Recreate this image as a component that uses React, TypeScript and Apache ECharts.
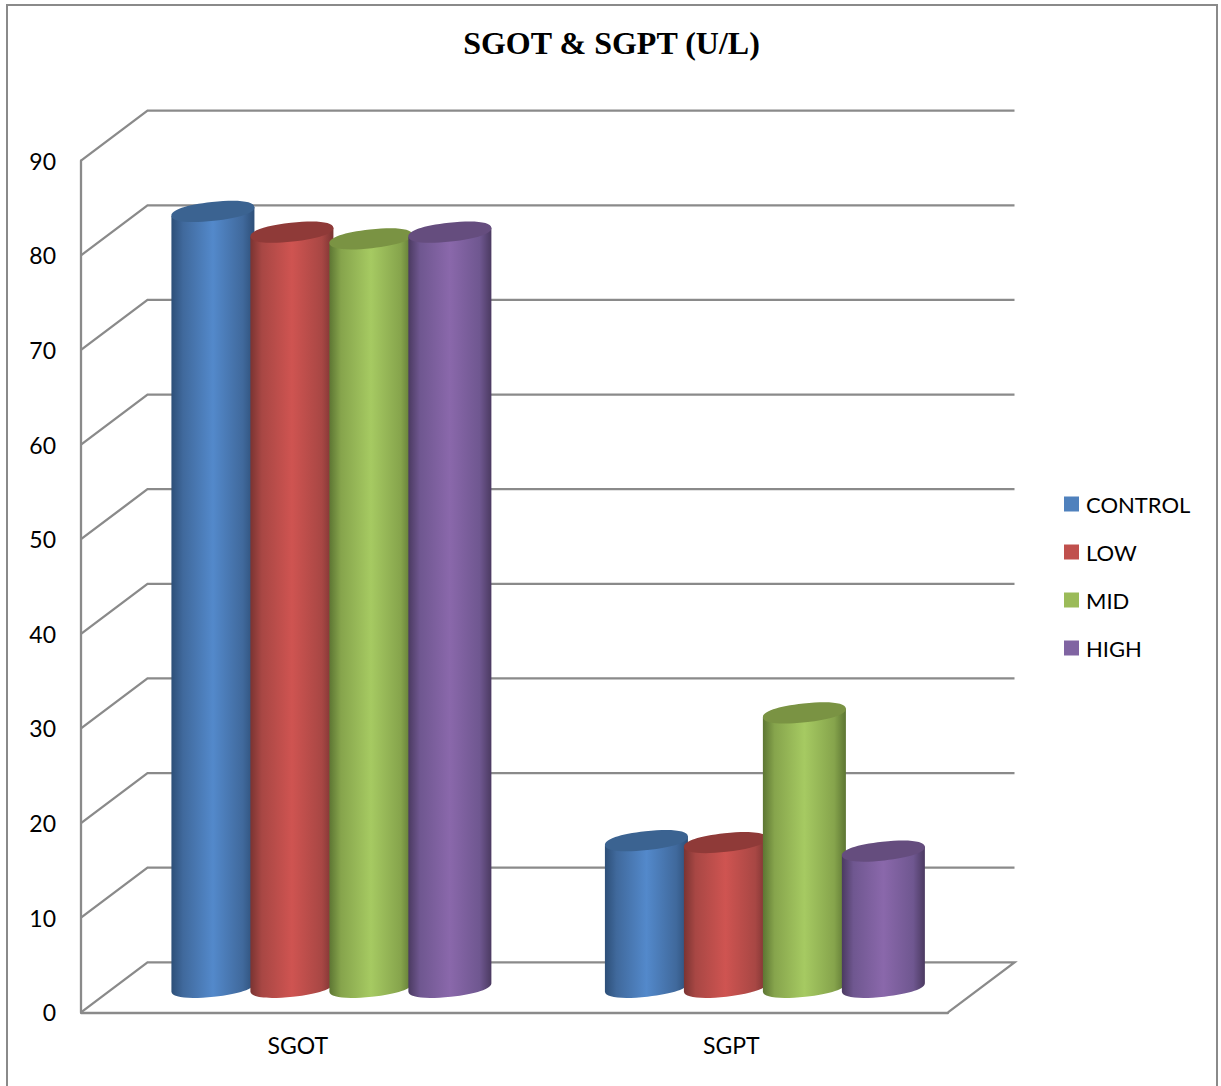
import React, { useEffect, useRef } from "react";
import * as echarts from "echarts";

const titleText = "SGOT & SGPT (U/L)";
const categories = ["SGOT", "SGPT"];
const axisTicks = [0, 10, 20, 30, 40, 50, 60, 70, 80, 90];

const controlValues = [82.0, 15.5];
const lowValues = [79.8, 15.3];
const midValues = [79.1, 29.0];
const highValues = [79.8, 14.4];

const GRID_LINE = "#8a8a8a";
const FONT = "Lato";

// The chart's floor and walls sit behind the front plane by this offset.
const DEPTH_X = 66.5;
const DEPTH_Y = -50;

const TILT_DEG = 6.2;
const PITCH_RATIO = 0.1822; // bar spacing relative to the category band
const WIDTH_RATIO = 0.1915; // cylinder width relative to the category band
const KAPPA = 0.62; // cubic control distance; a little fuller than a true ellipse

const palette = [
  { name: "CONTROL", values: controlValues, flat: "#4f81bd", edge: "#2d4f78", side: "#40699c", mid: "#5389cb", cap: "#3b6391" },
  { name: "LOW", values: lowValues, flat: "#c0504d", edge: "#7a3432", side: "#a84744", mid: "#cf5451", cap: "#8f3a38" },
  { name: "MID", values: midValues, flat: "#9bbb59", edge: "#5d7633", side: "#86a44c", mid: "#a6ca62", cap: "#7a9343" },
  { name: "HIGH", values: highValues, flat: "#8064a2", edge: "#4b3a61", side: "#6f5790", mid: "#8a68ab", cap: "#654d7e" },
];

// Back wall gridline with its diagonal on the side wall; the zero tick closes the floor.
function renderFrame(params: any, api: any) {
  const v = api.value(1);
  const y = api.coord([0, v])[1];
  const x = params.coordSys.x;
  const right = x + params.coordSys.width;
  const points =
    v === 0
      ? [
          [x, y],
          [x + DEPTH_X, y + DEPTH_Y],
          [right + DEPTH_X, y + DEPTH_Y],
          [right, y],
        ]
      : [
          [x, y],
          [x + DEPTH_X, y + DEPTH_Y],
          [right + DEPTH_X, y + DEPTH_Y],
        ];
  return {
    type: "polyline",
    shape: { points },
    style: { stroke: GRID_LINE, lineWidth: 2.3, fill: "none" },
  };
}

// Half of a tilted ellipse as two cubics, from its left end to its right end;
// side = 1 bulges downwards, side = -1 upwards. Returned without the initial move.
function halfEllipse(cx: number, cy: number, rx: number, ry: number, side: number, reverse: boolean) {
  const t = (TILT_DEG * Math.PI) / 180;
  const ux = Math.cos(t) * rx;
  const uy = -Math.sin(t) * rx;
  const vx = Math.sin(t) * ry * side;
  const vy = Math.cos(t) * ry * side;
  const at = (a: number, b: number) => `${cx + a * ux + b * vx} ${cy + a * uy + b * vy}`;
  if (!reverse) {
    return `C ${at(-1, KAPPA)} ${at(-KAPPA, 1)} ${at(0, 1)} C ${at(KAPPA, 1)} ${at(1, KAPPA)} ${at(1, 0)}`;
  }
  return `C ${at(1, KAPPA)} ${at(KAPPA, 1)} ${at(0, 1)} C ${at(-KAPPA, 1)} ${at(-1, KAPPA)} ${at(-1, 0)}`;
}

// One cylinder: shaded body with a rounded foot, and a darker tilted cap on top.
function makeCylinder(seriesPos: number, colors: (typeof palette)[number]) {
  return (_params: any, api: any) => {
    const band = api.size([1, 0])[0];
    const pitch = band * PITCH_RATIO;
    const half = (band * WIDTH_RATIO) / 2;
    const cat = api.value(0);
    const [fx, topFront] = api.coord([cat, api.value(1)]);
    const baseFront = api.coord([cat, 0])[1];
    const cx = fx + DEPTH_X / 2 + (seriesPos - 1.5) * pitch + 0.4;
    const topY = topFront + DEPTH_Y / 2;
    const baseY = baseFront + DEPTH_Y / 2;
    const t = (TILT_DEG * Math.PI) / 180;
    const rise = half * Math.tan(t);
    const rx = Math.hypot(half, rise);
    const ry = 9.4;
    const lx = cx - half;
    const rightX = cx + half;
    const body =
      `M ${lx} ${topY + rise} L ${lx} ${baseY + rise} ` +
      `${halfEllipse(cx, baseY, rx, ry, 1, false)} L ${rightX} ${topY - rise} Z`;
    const cap =
      `M ${lx} ${topY + rise} ${halfEllipse(cx, topY, rx, ry, 1, false)} ` +
      `${halfEllipse(cx, topY, rx, ry, -1, true)} Z`;
    const fill = new echarts.graphic.LinearGradient(0, 0, 1, 0, [
      { offset: 0, color: colors.edge },
      { offset: 0.14, color: colors.side },
      { offset: 0.5, color: colors.mid },
      { offset: 0.86, color: colors.side },
      { offset: 1, color: colors.edge },
    ]);
    return {
      type: "group",
      children: [
        { type: "path", shape: { pathData: body }, style: { fill } },
        { type: "path", shape: { pathData: cap }, style: { fill: colors.cap } },
      ],
    };
  };
}

export default function App() {
  const ref = useRef<HTMLDivElement>(null);

  useEffect(() => {
    const chart = echarts.init(ref.current!, undefined, { renderer: "svg" });
    chart.setOption({
      animation: false,
      backgroundColor: "#ffffff",
      title: {
        text: titleText,
        left: 606.5,
        top: 22,
        textAlign: "center",
        textStyle: { fontFamily: "Liberation Serif", fontWeight: "bold", fontSize: 32, color: "#000000" },
      },
      legend: {
        data: palette.map((p) => p.name),
        orient: "vertical",
        left: 1059,
        top: 488,
        icon: "rect",
        itemWidth: 15,
        itemHeight: 15,
        itemGap: 26,
        textStyle: { fontFamily: FONT, fontSize: 22, color: "#000000", padding: [0, 0, 0, 2] },
      },
      grid: { left: 81, top: 160.7, width: 867, height: 851.6 },
      xAxis: {
        type: "category",
        data: categories,
        axisTick: { show: false },
        axisLine: { lineStyle: { color: GRID_LINE, width: 2.3 } },
        axisLabel: { fontFamily: FONT, fontSize: 23, color: "#000000", margin: 21 },
      },
      yAxis: {
        type: "value",
        min: 0,
        max: 90,
        interval: 10,
        splitLine: { show: false },
        axisTick: { show: false },
        axisLine: { show: true, lineStyle: { color: GRID_LINE, width: 2.3 } },
        axisLabel: { fontFamily: FONT, fontSize: 23, color: "#000000", margin: 25 },
      },
      graphic: [
        {
          type: "polyline",
          shape: { points: [[7, 1086], [7, 5], [1217, 5], [1217, 1086]] },
          style: { stroke: "#8a8a8a", lineWidth: 2, fill: "none" },
        },
      ],
      series: [
        {
          type: "custom",
          name: "frame",
          renderItem: renderFrame,
          data: axisTicks.map((t) => [0, t]),
          encode: { x: 0, y: 1 },
          silent: true,
        },
        ...palette.map((p, i) => ({
          type: "custom",
          name: p.name,
          renderItem: makeCylinder(i, p),
          itemStyle: { color: p.flat },
          data: categories.map((_, c) => [c, p.values[c]]),
          encode: { x: 0, y: 1 },
        })),
      ],
    });
    return () => chart.dispose();
  }, []);

  return (
    <div
      ref={ref}
      style={{ position: "absolute", left: 0, top: 0, width: 1221, height: 1086 }}
    />
  );
}
